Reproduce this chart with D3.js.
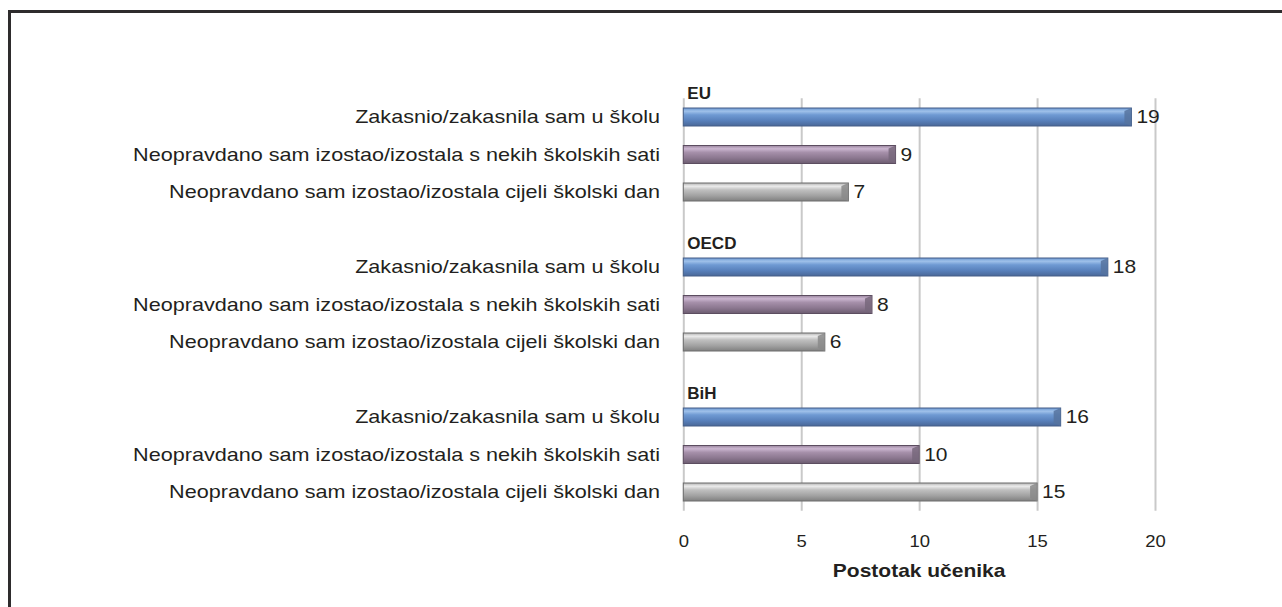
<!DOCTYPE html>
<html>
<head>
<meta charset="utf-8">
<script src="https://cdn.jsdelivr.net/npm/d3@7"></script>
<style>
  html, body { margin: 0; padding: 0; background: #fff; }
  svg { display: block; font-family: "Liberation Sans", Arial, sans-serif; }
</style>
</head>
<body>
<svg id="chart" width="1282" height="607"></svg>
<script>
// Groups, behaviours and the share of students (%) for each
const groups = ["EU", "OECD", "BiH"];
const behaviours = [
  "Zakasnio/zakasnila sam u školu",
  "Neopravdano sam izostao/izostala s nekih školskih sati",
  "Neopravdano sam izostao/izostala cijeli školski dan"
];
const valuesEU   = [19, 9, 7];
const valuesOECD = [18, 8, 6];
const valuesBiH  = [16, 10, 15];
const xTicks = [0, 5, 10, 15, 20];
const xTitle = "Postotak učenika";

const groupValues = { EU: valuesEU, OECD: valuesOECD, BiH: valuesBiH };

// Rows: three bars per group, with an empty slot between groups
const rows = [];
const slots = [];
groups.forEach((g, gi) => {
  if (gi > 0) slots.push("gap" + gi);
  behaviours.forEach((b, bi) => {
    const key = g + "|" + bi;
    slots.push(key);
    rows.push({ key, group: g, idx: bi, label: b, value: groupValues[g][bi] });
  });
});

const svg = d3.select("#chart");
const ink = "#231f20";
const WIDE = 1.2; // the typeface is set slightly extended

// place a text at (px, py), stretched horizontally around its anchor
function placeText(sel, px, py, sx) {
  return sel.attr("x", 0).attr("y", 0)
    .attr("transform", (d, i) => `translate(${px(d, i)},${py(d, i)}) scale(${sx},1)`);
}

// outer frame
svg.append("path")
  .attr("d", "M9.5,650 L9.5,11.5 L1300,11.5")
  .attr("fill", "none")
  .attr("stroke", "#2e2c2d")
  .attr("stroke-width", 3);

const plot = { left: 683.3, right: 1155, top: 98.25, bottom: 510.75 };

const x = d3.scaleLinear().domain([0, 20]).range([plot.left, plot.right]);
const y = d3.scaleBand().domain(slots).range([plot.top, plot.bottom])
  .paddingInner(0.52).paddingOuter(0.26);

// gradients for the bevelled bars
const palettes = [
  { stops: ["#6a96d0", "#9fc1ea", "#6f9ad3", "#5880bb", "#4a6898"], edge: "#465f88", end: "#56739f" },
  { stops: ["#9a869e", "#cbb6d0", "#a690aa", "#8b778f", "#6c5c70"], edge: "#5c4d60", end: "#77677b" },
  { stops: ["#b2b2b2", "#ebebeb", "#c0c0c0", "#a2a2a2", "#808080"], edge: "#6c6c6c", end: "#8a8a8a" }
];
const defs = svg.append("defs");
palettes.forEach((p, i) => {
  const lg = defs.append("linearGradient").attr("id", "bar" + i)
    .attr("x1", 0).attr("y1", 0).attr("x2", 0).attr("y2", 1);
  [0, 0.18, 0.38, 0.7, 1].forEach((o, k) =>
    lg.append("stop").attr("offset", o).attr("stop-color", p.stops[k]));
});

// vertical gridlines and tick labels
const axis = d3.axisBottom(x).tickValues(xTicks)
  .tickSizeInner(-(plot.bottom - plot.top)).tickSizeOuter(0).tickPadding(25);
const ax = svg.append("g").attr("transform", `translate(0,${plot.bottom})`).call(axis);
ax.select(".domain").remove();
ax.selectAll(".tick line").attr("stroke", "#c9c9c9").attr("stroke-width", 2);
ax.selectAll(".tick text")
  .attr("fill", ink)
  .attr("dy", null)
  .attr("transform", "translate(0,36) scale(1.12,1)")
  .attr("y", 0)
  .style("font-size", "16.5px")
  .style("font-family", "Liberation Sans, Arial, sans-serif");

placeText(svg.append("text").datum(xTitle), () => (plot.left + plot.right) / 2, () => 577, WIDE)
  .attr("text-anchor", "middle")
  .attr("fill", ink)
  .style("font-size", "17.5px")
  .style("font-weight", "bold")
  .text(d => d);

// bars
const bars = svg.append("g").selectAll("g.bar").data(rows).join("g").attr("class", "bar");
bars.append("rect")
  .attr("x", plot.left)
  .attr("y", d => y(d.key))
  .attr("width", d => x(d.value) - plot.left)
  .attr("height", y.bandwidth())
  .attr("fill", d => `url(#bar${d.idx})`)
  .attr("stroke", d => palettes[d.idx].edge)
  .attr("stroke-width", 1);
// right-end bevel face
bars.append("path")
  .attr("d", d => {
    const x1 = x(d.value), y0 = y(d.key), y1 = y0 + y.bandwidth(), b = 7;
    return `M${x1 - b},${y0 + 3} L${x1},${y0} L${x1},${y1} L${x1 - b},${y1 - 3} Z`;
  })
  .attr("fill", d => palettes[d.idx].end)
  .attr("opacity", 0.85);

// value labels
placeText(bars.append("text"), d => x(d.value) + 5, d => y(d.key) + y.bandwidth() / 2 + 6.3, WIDE)
  .attr("fill", ink)
  .style("font-size", "17.5px")
  .text(d => d3.format("d")(d.value));

// category labels
placeText(svg.append("g").selectAll("text").data(rows).join("text"),
    () => 660, d => y(d.key) + y.bandwidth() / 2 + 6, 1.2)
  .attr("text-anchor", "end")
  .attr("fill", ink)
  .style("font-size", "18px")
  .text(d => d.label);

// group headings just above each group's first bar
svg.append("g").selectAll("text").data(groups).join("text")
  .attr("x", plot.left + 4)
  .attr("y", g => y(g + "|0") + y.bandwidth() / 2 - 24)
  .attr("dy", "0.36em")
  .attr("fill", ink)
  .style("font-size", "17px")
  .style("font-weight", "bold")
  .text(g => g);
</script>
</body>
</html>
